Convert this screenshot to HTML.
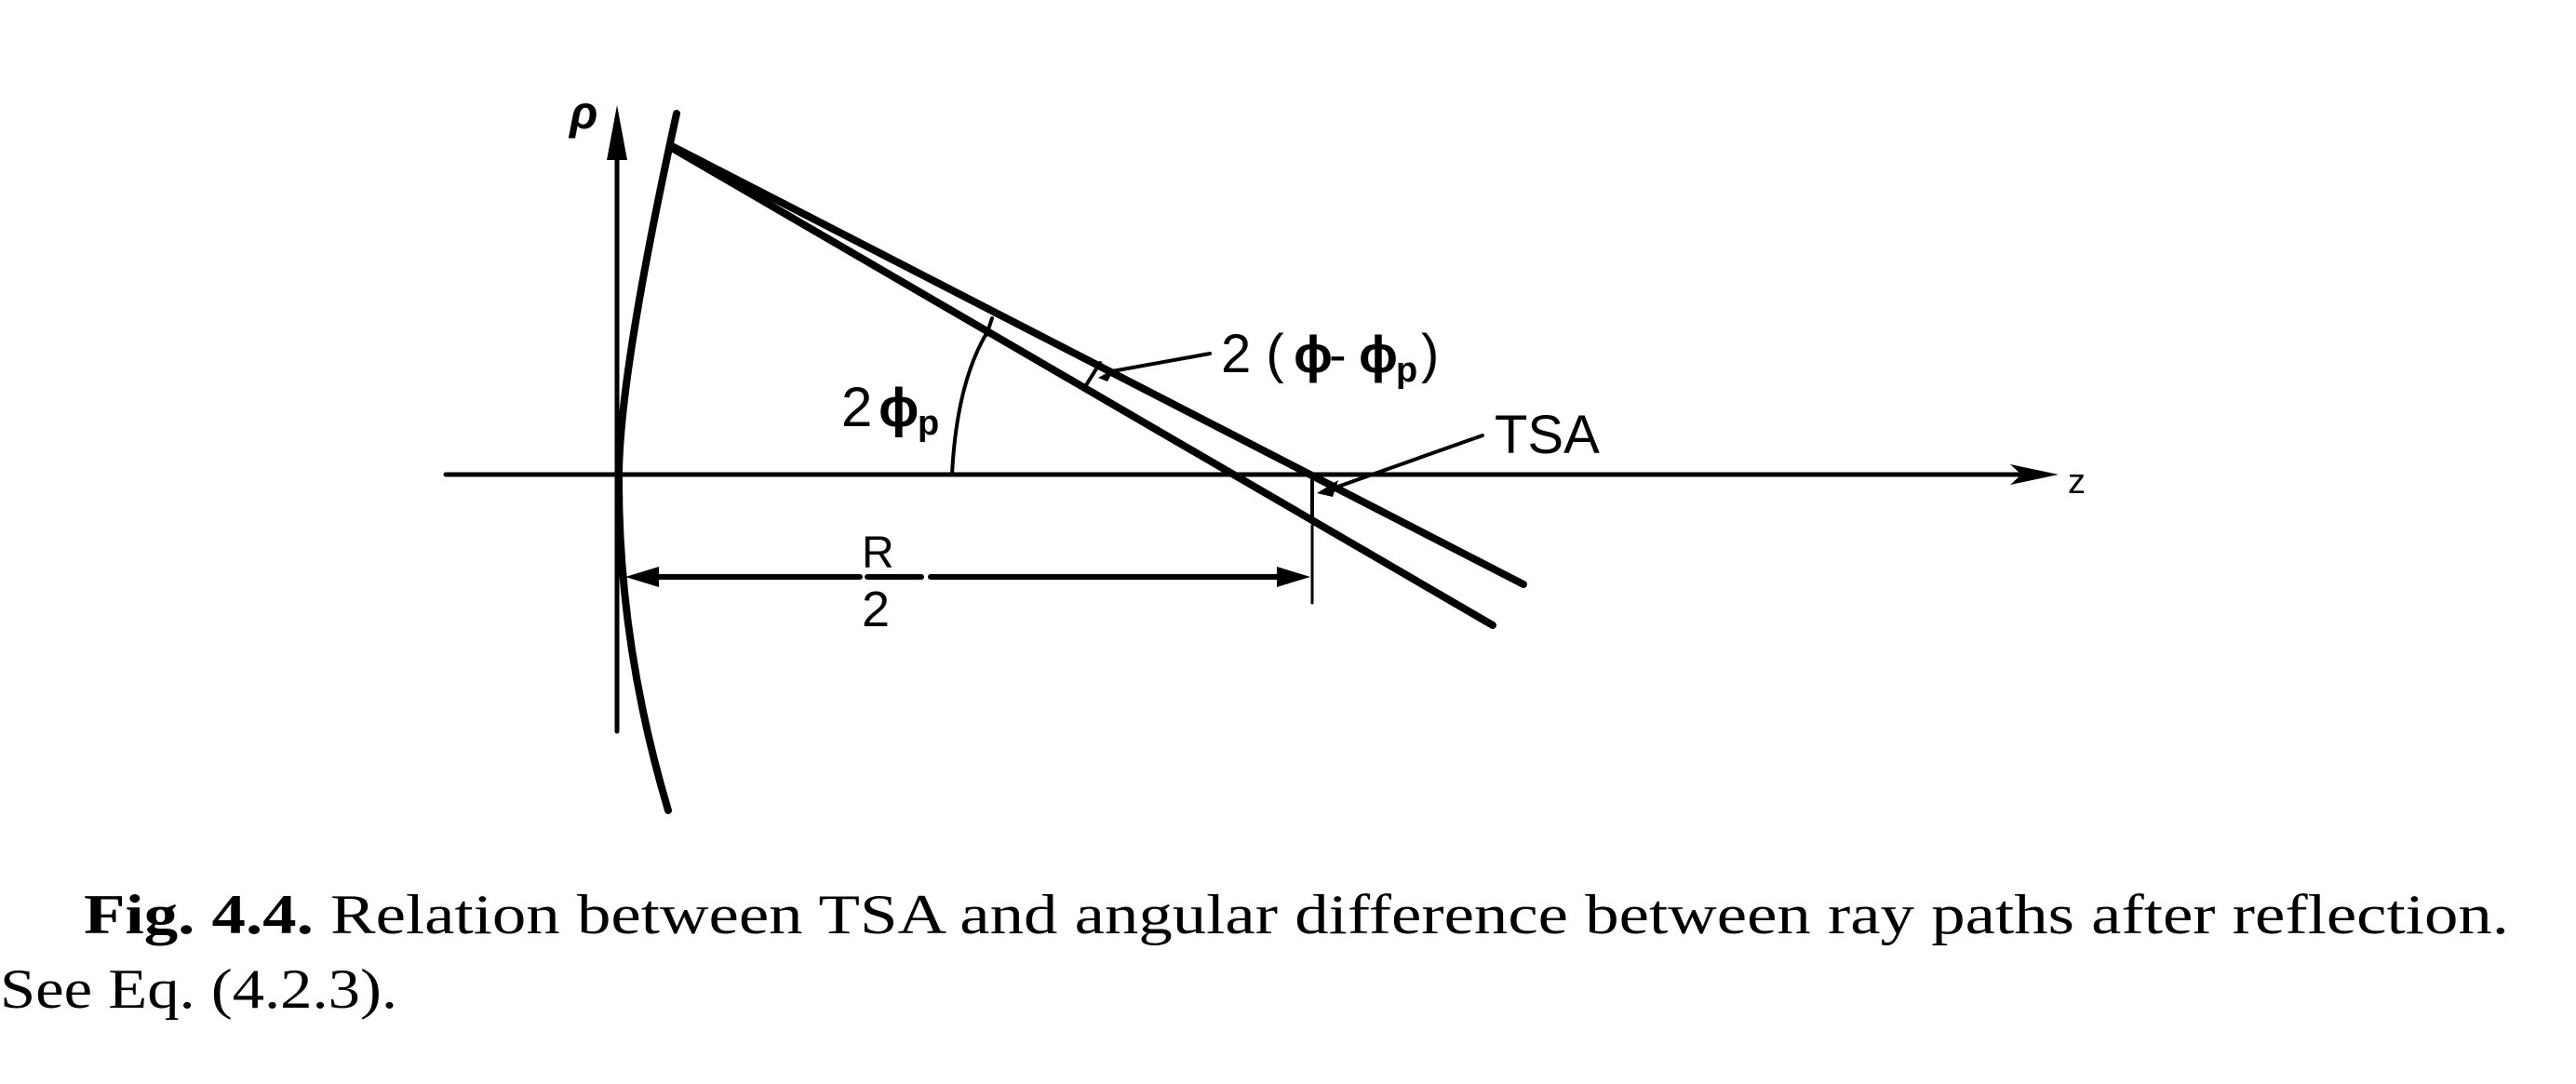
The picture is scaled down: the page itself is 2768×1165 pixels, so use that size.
<!DOCTYPE html>
<html><head><meta charset="utf-8"><style>
html,body{margin:0;padding:0;background:#fff;}
svg{display:block;}
.s{font-family:"Liberation Sans","DejaVu Sans",sans-serif;fill:#000;}
.c{font-family:"Liberation Serif",serif;fill:#000;font-size:60px;}
</style></head><body>
<svg width="2768" height="1165" viewBox="0 0 2768 1165" xmlns="http://www.w3.org/2000/svg">
<g stroke="#000" fill="none" stroke-linecap="round">
<line x1="663" y1="786" x2="663" y2="150" stroke-width="5"/>
<polygon points="663,113 652,172 674,172" fill="#000" stroke="none"/>
<path d="M727,122 Q666,400 665,510 Q664,690 718,871" stroke-width="8"/>
<line x1="479" y1="510" x2="2170" y2="510" stroke-width="5"/>
<polygon points="2212,510 2160,499 2172,510 2160,521" fill="#000" stroke="none"/>
<line x1="722" y1="157" x2="1637" y2="628" stroke-width="8"/>
<line x1="722" y1="159" x2="1604" y2="672" stroke-width="8"/>
<path d="M1023,510 Q1028,410 1062,355" stroke-width="4"/>
<line x1="1060" y1="360" x2="1066" y2="342" stroke-width="4"/>
<line x1="1167" y1="414" x2="1182" y2="390" stroke-width="4"/>
<line x1="1195" y1="399" x2="1300" y2="380" stroke-width="4"/>
<polygon points="1180,406 1198,396 1190,410" fill="#000" stroke="none"/>
<line x1="1410" y1="512" x2="1410" y2="557" stroke-width="4"/>
<line x1="1593" y1="468" x2="1432" y2="525" stroke-width="4"/>
<polygon points="1415,530 1438,516 1432,534" fill="#000" stroke="none"/>
<line x1="1410" y1="565" x2="1410" y2="648" stroke-width="3"/>
<line x1="700" y1="620" x2="924" y2="620" stroke-width="6"/>
<line x1="1000" y1="620" x2="1380" y2="620" stroke-width="6"/>
<polygon points="672,620 708,609 708,631" fill="#000" stroke="none"/>
<polygon points="1408,620 1372,609 1372,631" fill="#000" stroke="none"/>
<line x1="932" y1="620" x2="990" y2="620" stroke-width="6"/>
</g>
<text class="s" x="612" y="138" font-size="50" font-style="italic" font-weight="bold">ρ</text>
<text class="s" x="2222" y="530" font-size="38">z</text>
<text class="s" x="904" y="458" font-size="60">2</text>
<text class="s" x="944" y="458" font-size="58" font-weight="bold">ϕ</text>
<text class="s" x="986" y="467" font-size="38" font-weight="bold">p</text>
<text class="s" x="1312" y="400" font-size="58">2 (</text>
<text class="s" x="1390" y="400" font-size="56" font-weight="bold">ϕ</text>
<text class="s" x="1428" y="400" font-size="56">-</text>
<text class="s" x="1460" y="400" font-size="56" font-weight="bold">ϕ</text>
<text class="s" x="1500" y="410" font-size="38" font-weight="bold">p</text>
<text class="s" x="1527" y="400" font-size="58">)</text>
<text class="s" x="1606" y="487" font-size="58">TSA</text>
<text class="s" x="926" y="610" font-size="48">R</text>
<text class="s" x="926" y="673" font-size="54">2</text>
<text class="c" x="90" y="1003" textLength="2606" lengthAdjust="spacingAndGlyphs"><tspan font-weight="bold">Fig. 4.4.</tspan> Relation between TSA and angular difference between ray paths after reflection.</text>
<text class="c" x="0" y="1083" textLength="427" lengthAdjust="spacingAndGlyphs">See Eq. (4.2.3).</text>
</svg>
</body></html>
